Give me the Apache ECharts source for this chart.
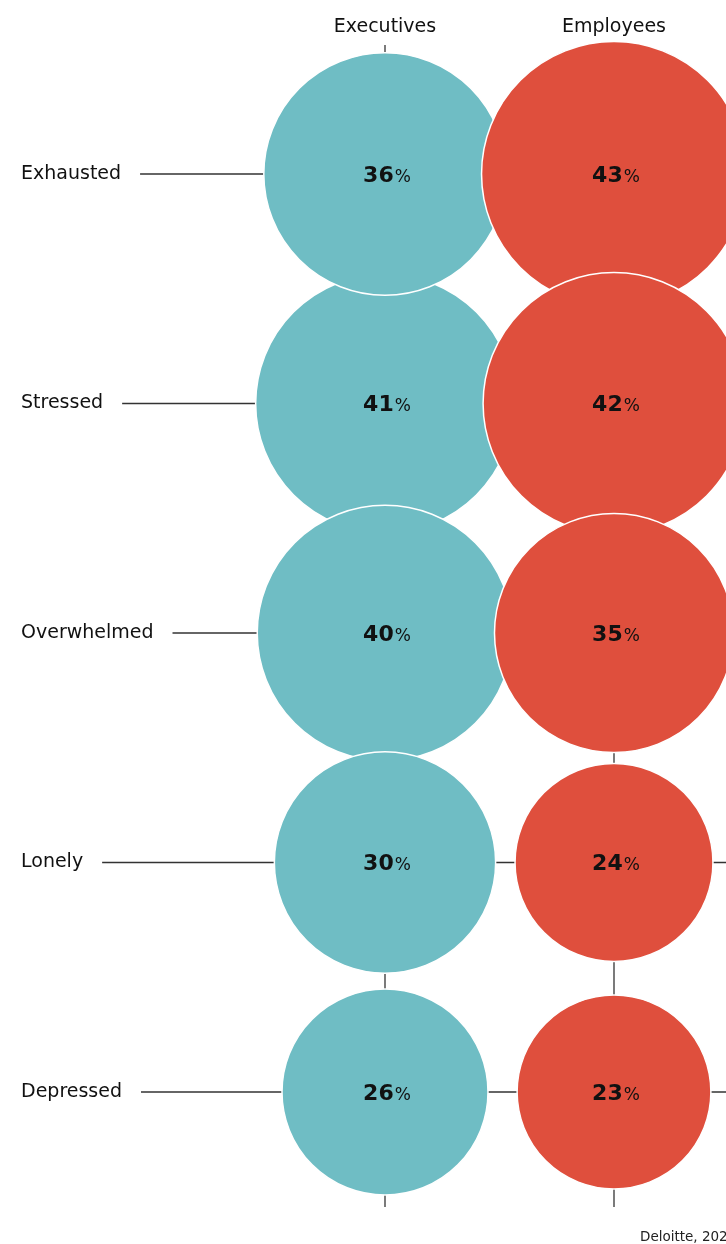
<!DOCTYPE html>
<html>
<head>
<meta charset="utf-8">
<script src="https://cdn.jsdelivr.net/npm/echarts@6/dist/echarts.min.js"></script>
<style>
  html, body { margin: 0; padding: 0; background: #ffffff; }
  #chart { width: 726px; height: 1244px; }
</style>
</head>
<body>
<div id="chart"></div>
<script>
const groups = ['Executives', 'Employees'];
const feelings = ['Exhausted', 'Stressed', 'Overwhelmed', 'Lonely', 'Depressed'];
const executives = [36, 41, 40, 30, 26];
const employees = [43, 42, 35, 24, 23];
const sourceText = 'Deloitte, 2022';

const TEAL = '#6fbdc4';
const RED = '#df4f3d';
const LINE = '#333333';
const FONT = '"DejaVu Sans", sans-serif';
const LABEL_SIZE = 19;

const measureCtx = document.createElement('canvas').getContext('2d');
measureCtx.font = LABEL_SIZE + 'px ' + FONT;
function textWidth(t) { return measureCtx.measureText(t).width; }

function bubbleData(values, col) {
  const d = values.map((v, i) => [col, i, v]);
  d.sort((a, b) => b[2] - a[2]); // larger drawn first, smaller on top
  return d;
}

const chart = echarts.init(document.getElementById('chart'), null, { renderer: 'canvas' });

const GRID_LEFT = 385, GRID_TOP = 174;
const LABEL_X = 21;

const bubbleLabel = {
  show: true, position: 'inside', offset: [2, 2],
  formatter: function (p) { return '{b|' + p.value[2] + '}{p|%}'; },
  rich: {
    b: { fontSize: 22, fontWeight: 'bold', color: '#111', fontFamily: FONT },
    p: { fontSize: 17, color: '#111', fontFamily: FONT, padding: [3, 0, 0, 1] }
  }
};

chart.setOption({
  backgroundColor: '#ffffff',
  animation: false,
  grid: { left: GRID_LEFT, top: GRID_TOP, width: 229, height: 918, containLabel: false },
  xAxis: {
    type: 'category',
    data: groups,
    boundaryGap: false,
    position: 'top',
    axisLine: { show: false },
    axisTick: { show: false },
    splitLine: { show: false },
    axisLabel: { margin: 137, fontSize: 19, color: '#111', fontFamily: FONT, verticalAlign: 'bottom', interval: 0 }
  },
  yAxis: {
    type: 'category',
    data: feelings,
    boundaryGap: false,
    inverse: true,
    axisLine: { show: false },
    axisTick: { show: false },
    splitLine: { show: false },
    axisLabel: { margin: GRID_LEFT - LABEL_X, align: 'left', fontSize: LABEL_SIZE, color: '#111', fontFamily: FONT, interval: 0, padding: [2, 0, 0, 0] }
  },
  graphic: [{
    type: 'text', left: 640, top: 1230,
    style: { text: sourceText, fill: '#222', font: '13.5px ' + FONT }
  }],
  series: [
    {
      type: 'custom',
      silent: true,
      z: 1,
      clip: false,
      data: feelings.map((f, i) => [0, i]),
      renderItem: function (params, api) {
        const i = api.value(1);
        const y = api.coord([0, i])[1];
        const x1 = LABEL_X + textWidth(feelings[i]) + 19;
        const x2 = api.getWidth();
        return { type: 'line', shape: { x1: x1, y1: y, x2: x2, y2: y }, style: { stroke: LINE, lineWidth: 1.3 } };
      }
    },
    {
      type: 'custom',
      silent: true,
      z: 1,
      clip: false,
      data: groups.map((g, j) => [j, 0]),
      renderItem: function (params, api) {
        const j = api.value(0);
        const x = api.coord([j, 0])[0];
        const y1 = api.coord([j, 0])[1] - 129;
        const y2 = api.coord([j, feelings.length - 1])[1] + 115;
        return { type: 'line', shape: { x1: x, y1: y1, x2: x, y2: y2 }, style: { stroke: LINE, lineWidth: 1.3 } };
      }
    },
    {
      name: groups[0],
      type: 'scatter',
      z: 3,
      clip: false,
      data: bubbleData(executives, 0),
      symbolSize: function (v) { return 40.4 * Math.sqrt(v[2]); },
      itemStyle: { color: TEAL, borderColor: '#ffffff', borderWidth: 1.5, opacity: 1 },
      label: bubbleLabel,
      emphasis: { disabled: true }
    },
    {
      name: groups[1],
      type: 'scatter',
      z: 4,
      clip: false,
      data: bubbleData(employees, 1),
      symbolSize: function (v) { return 40.4 * Math.sqrt(v[2]); },
      itemStyle: { color: RED, borderColor: '#ffffff', borderWidth: 1.5, opacity: 1 },
      label: bubbleLabel,
      emphasis: { disabled: true }
    }
  ]
});
</script>
</body>
</html>
